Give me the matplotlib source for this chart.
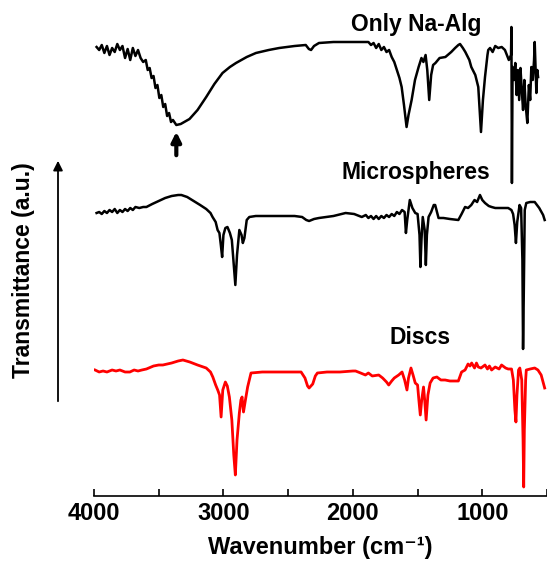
import numpy as np
import matplotlib
matplotlib.use("Agg")
import matplotlib.pyplot as plt

plt.rcParams['font.family'] = ['Liberation Sans', 'DejaVu Sans']
plt.rcParams['font.weight'] = 'bold'

# FTIR spectra, transmittance in a.u. (already stacked)
wn_alg = [3980, 3960, 3940, 3920, 3900, 3880, 3860, 3840, 3820, 3800, 3780, 3760, 3740, 3720,
          3700, 3680, 3660, 3640, 3620, 3600, 3585, 3570, 3555, 3540, 3525, 3510, 3495, 3480,
          3465, 3450, 3435, 3420, 3405, 3390, 3364,
          3330, 3290, 3262, 3200, 3133, 3070, 3007, 2950, 2903, 2820, 2749, 2650, 2569, 2450,
          2364, 2340, 2323, 2300, 2262, 2150, 2056, 1950, 1880, 1860, 1840, 1820, 1800, 1780,
          1760, 1740, 1720, 1700, 1680, 1660, 1640, 1623, 1605, 1585, 1570, 1546, 1520, 1492,
          1470, 1455, 1438, 1425, 1410, 1395, 1380, 1362, 1330, 1285, 1240, 1210, 1185, 1172,
          1150, 1131, 1100, 1085, 1054, 1031, 1020, 1010, 995, 979, 960, 954, 940, 920, 900,
          877, 850, 825, 795, 778, 775, 771, 766, 755, 745, 735, 725, 715, 705, 695, 685, 675,
          665, 652, 640, 630, 621, 610, 600, 595, 588, 582, 575, 569]
t_alg = [449, 446, 451, 443, 450, 441, 448, 444, 452, 446, 450, 438, 447, 436,
         448, 440, 446, 438, 434, 436, 426, 428, 418, 420, 408, 411, 398, 401,
         389, 392, 380, 383, 374, 376, 371,
         372, 375, 377, 386, 399, 412, 423, 429, 433, 439, 443, 446, 448, 450,
         451, 447, 446, 450, 453, 454, 454, 454, 454, 451, 453, 448, 452, 446,
         449, 444, 446, 439, 434, 426, 418, 409, 391, 369, 381, 396, 416, 429,
         438, 434, 441, 426, 396, 421, 431, 433, 438, 439, 444, 448, 451, 452,
         448, 444, 436, 429, 421, 409, 386, 364, 396, 419, 441, 446, 448, 444, 450,
         448, 449, 446, 436, 441, 469, 313, 429, 416, 433, 401, 426, 396, 428, 406, 386, 416,
         391, 373, 411, 396, 429, 416, 436, 454, 426, 403, 426, 419]

wn_micro = [3980, 3960, 3940, 3920, 3900, 3880, 3860, 3840, 3820, 3800, 3780, 3760, 3740, 3720,
            3700, 3680, 3650, 3620, 3595, 3550, 3500, 3450, 3400, 3350, 3325, 3280, 3230, 3180,
            3133, 3100, 3084, 3060, 3045, 3031, 3020, 3010, 3000, 2985, 2969, 2950, 2935, 2920,
            2908, 2895, 2877, 2860, 2850, 2838, 2820, 2800, 2750, 2650, 2550, 2450, 2392, 2360,
            2338, 2300, 2262, 2150, 2056, 1990, 1931, 1900, 1880, 1860, 1840, 1820, 1800, 1780,
            1760, 1740, 1720, 1700, 1680, 1660, 1640, 1620, 1600, 1590, 1580, 1560, 1540, 1518,
            1500, 1485, 1478, 1470, 1460, 1445, 1436, 1428, 1415, 1395, 1375, 1364, 1350, 1338,
            1300, 1250, 1185, 1160, 1133, 1110, 1085, 1060, 1040, 1018, 1000, 979, 950, 928, 900,
            850, 800, 775, 762, 750, 740, 730, 712, 700, 690, 685, 680, 672, 660, 630, 595, 560,
            530, 518]
t_micro = [283, 284, 282, 285, 283, 286, 284, 287, 283, 286, 284, 287, 285, 288,
           286, 289, 288, 289, 289, 292, 295, 298, 300, 301, 301, 299, 295, 291,
           287, 283, 279, 274, 266, 263, 251, 239, 261, 268, 269, 263, 256, 231,
           211, 241, 266, 261, 253, 258, 276, 279, 280, 280, 280, 280, 279, 276,
           275, 277, 278, 280, 283, 282, 279, 281, 278, 280, 277, 280, 277, 280,
           278, 281, 279, 282, 280, 284, 282, 286, 284, 263, 276, 296, 288, 283,
           282, 261, 229, 256, 279, 266, 231, 261, 279, 284, 291, 291, 284, 278,
           278, 277, 276, 282, 289, 288, 291, 296, 294, 301, 296, 293, 290, 289, 288,
           288, 288, 286, 282, 271, 253, 274, 291, 288, 236, 147, 196, 286, 293, 294, 294, 288,
           281, 276]

wn_discs = [3992, 3960, 3930, 3900, 3860, 3830, 3800, 3760, 3723, 3690, 3660, 3630, 3595, 3540,
            3500, 3468, 3400, 3350, 3313, 3260, 3200, 3133, 3100, 3082, 3060, 3044, 3030, 3018,
            3005, 2985, 2970, 2954, 2935, 2920, 2908, 2895, 2877, 2865, 2856, 2845, 2830, 2813,
            2787, 2700, 2600, 2500, 2400, 2370, 2350, 2338, 2310, 2290, 2274, 2200, 2100, 2000,
            1979, 1940, 1903, 1880, 1850, 1800, 1770, 1740, 1723, 1700, 1680, 1646, 1620, 1600,
            1582, 1570, 1551, 1535, 1518, 1500, 1490, 1479, 1468, 1454, 1445, 1434, 1420, 1403,
            1380, 1351, 1320, 1287, 1250, 1220, 1185, 1160, 1133, 1110, 1095, 1082, 1060, 1045,
            1031, 1010, 979, 960, 945, 928, 900, 870, 851, 820, 800, 774, 760, 748, 740, 732,
            720, 710, 695, 685, 680, 675, 665, 660, 630, 595, 570, 545, 518]
t_discs = [126, 124, 125, 124, 126, 125, 126, 124, 124, 126, 125, 126, 127, 130,
           131, 131, 133, 135, 136, 134, 131, 128, 124, 119, 111, 106, 101, 79,
           106, 114, 110, 99, 76, 41, 21, 56, 83, 96, 99, 84, 96, 109,
           123, 124, 124, 124, 124, 118, 110, 108, 112, 120, 123, 124, 124, 125,
           125, 123, 121, 123, 120, 121, 118, 114, 111, 115, 118, 121, 124, 116,
           106, 118, 128, 121, 113, 111, 96, 81, 96, 109, 96, 76, 101, 113,
           118, 119, 116, 116, 115, 115, 115, 124, 126, 132, 130, 133, 128, 133,
           129, 128, 131, 127, 130, 126, 129, 127, 131, 128, 127, 127, 116, 86, 74, 101,
           126, 128, 116, 56, 9, 66, 116, 126, 127, 128, 126, 121, 108]

xticks_major = [4000, 3000, 2000, 1000]
xticks_minor = [3500, 2500, 1500, 500]

fig = plt.figure(figsize=(5.47, 5.61), dpi=100)
ax = fig.add_axes([94/547, 1 - 496/561, (547 - 94)/547, 496/561])

ax.plot(wn_alg, t_alg, color='black', lw=1.8)
ax.plot(wn_micro, t_micro, color='black', lw=1.8)
ax.plot(wn_discs, t_discs, color='red', lw=2.0)

ax.set_xlim(4000, 515)
ax.set_ylim(0, 496)

for s in ['left', 'right', 'top']:
    ax.spines[s].set_visible(False)
ax.spines['bottom'].set_linewidth(1.2)
ax.set_yticks([])
ax.set_xticks(xticks_major)
ax.set_xticks(xticks_minor, minor=True)
ax.tick_params(axis='x', which='both', direction='in', length=5, width=1.2)
ax.tick_params(axis='x', which='major', labelsize=17, pad=4)
for lab in ax.get_xticklabels():
    lab.set_fontweight('bold')

ax.set_xlabel('Wavenumber (cm\u207b\u00b9)', fontsize=17, fontweight='bold', labelpad=8)

ax.text(1508, 471, 'Only Na-Alg', fontsize=16.5, fontweight='bold', ha='center', va='center')
ax.text(1512, 324, 'Microspheres', fontsize=16.5, fontweight='bold', ha='center', va='center')
ax.text(1477, 158, 'Discs', fontsize=16.5, fontweight='bold', ha='center', va='center')

# arrow marking the broad O-H band
ax.annotate('', xy=(3364, 367), xytext=(3364, 338),
            arrowprops=dict(arrowstyle='-|>', lw=3, mutation_scale=14, color='black'))

# y-axis arrow and label
ax.annotate('', xy=(58/547, 1 - 158/561), xytext=(58/547, 1 - 404/561),
            xycoords='figure fraction', textcoords='figure fraction',
            arrowprops=dict(arrowstyle='-|>', lw=1.3, mutation_scale=14, color='black'))
fig.text(24/547, 1 - 270/561, 'Transmittance (a.u.)', rotation=90, fontsize=16.5,
         fontweight='bold', ha='center', va='center')

fig.savefig('out.png', dpi=100)
